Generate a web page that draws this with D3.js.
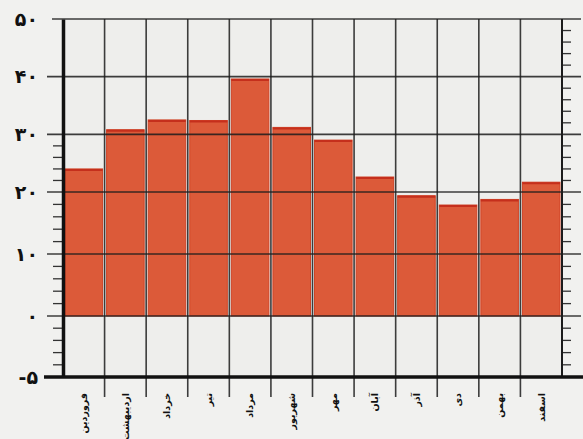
<!DOCTYPE html>
<html>
<head>
<meta charset="utf-8">
<script src="https://cdn.jsdelivr.net/npm/d3@7"></script>
<style>
  html, body { margin: 0; padding: 0; background: #f1f1ef; }
  svg { display: block; }
</style>
</head>
<body>
<div id="chart"></div>
<script>
'use strict';

// months of the Persian calendar
const months = ["فروردین", "اردیبهشت", "خرداد", "تیر", "مرداد", "شهریور",
                "مهر", "آبان", "آذر", "دی", "بهمن", "اسفند"];
// bar values
const values = [24, 30.8, 32.5, 32.4, 39.6, 31.2, 29, 22.6, 19.4, 17.9, 18.8, 21.7];
// labelled gridlines
const yMajor = [-5, 0, 10, 20, 30, 40, 50];

const W = 583, H = 439;

function faDigits(n) {
  return String(n).replace(/\d/g, d => "۰۱۲۳۴۵۶۷۸۹"[+d]);
}

let svg = d3.select("#chart").append("svg")
  .attr("width", W)
  .attr("height", H);

// x: one band per month
let x = d3.scaleBand()
  .domain(months)
  .range([63, 562])
  .paddingInner(0)
  .paddingOuter(0);

// y: the printed scale is not linear (below 0 is stretched), so piecewise
let y = d3.scaleLinear()
  .domain([-5, 0, 20, 50])
  .range([377, 316, 192, 19]);

// plot background
svg.append("rect")
  .attr("x", x.range()[0])
  .attr("y", y(50))
  .attr("width", x.range()[1] - x.range()[0])
  .attr("height", y(-5) - y(50))
  .attr("fill", "#eeeeec");

// bars
let bars = svg.append("g");
bars.selectAll("rect")
  .data(values)
  .enter()
  .append("rect")
  .attr("x", (d, i) => x(months[i]) + 2)
  .attr("y", d => y(d))
  .attr("width", x.bandwidth() - 4)
  .attr("height", d => y(0) - y(d))
  .attr("fill", "#dc5a39")
  .attr("stroke", "#d04326")
  .attr("stroke-width", 1);

// darker top edge of each bar
bars.selectAll("line")
  .data(values)
  .enter()
  .append("line")
  .attr("x1", (d, i) => x(months[i]) + 2)
  .attr("x2", (d, i) => x(months[i]) + x.bandwidth() - 2)
  .attr("y1", d => y(d) + 1)
  .attr("y2", d => y(d) + 1)
  .attr("stroke", "#c52f1c")
  .attr("stroke-width", 2);

// horizontal gridlines at major values
let grid = svg.append("g")
  .attr("stroke", "#1c1c1c")
  .attr("stroke-opacity", 0.85);

grid.selectAll("line.h")
  .data(yMajor.filter(v => v > -5))
  .enter()
  .append("line")
  .attr("class", "h")
  .attr("x1", d => d == 50 ? 52 : 47)
  .attr("x2", 581)
  .attr("y1", d => y(d))
  .attr("y2", d => y(d))
  .attr("stroke-width", 1.6);

// vertical boundaries between months, running below the axis as ticks
let bounds = months.slice(1).map(m => x(m));
grid.selectAll("line.v")
  .data(bounds)
  .enter()
  .append("line")
  .attr("class", "v")
  .attr("x1", d => d)
  .attr("x2", d => d)
  .attr("y1", y(50))
  .attr("y2", y(-5) + 20)
  .attr("stroke-width", 1.6);

// minor ticks: every 2 above zero, every 1 below
let minor = d3.range(0, 50, 2).concat(d3.range(-5, 0, 1)).filter(v => v % 10 != 0 && v != -5);

// left minor ticks only appear below 30 on the print
svg.append("g")
  .selectAll("line")
  .data(minor.filter(v => v < 30))
  .enter()
  .append("line")
  .attr("x1", 53)
  .attr("x2", 63)
  .attr("y1", d => y(d))
  .attr("y2", d => y(d))
  .attr("stroke", "#333")
  .attr("stroke-width", 1.3);

// right minor ticks
svg.append("g")
  .selectAll("line")
  .data(minor)
  .enter()
  .append("line")
  .attr("x1", 562)
  .attr("x2", 571)
  .attr("y1", d => y(d))
  .attr("y2", d => y(d))
  .attr("stroke", "#333")
  .attr("stroke-width", 1.3);

// right axis line
svg.append("line")
  .attr("x1", 562).attr("x2", 562)
  .attr("y1", y(50)).attr("y2", y(-5))
  .attr("stroke", "#1c1c1c")
  .attr("stroke-width", 2);

// left axis (thick) with Persian labels
let yAxis = d3.axisLeft(y)
  .tickValues(yMajor)
  .tickSize(0)
  .tickPadding(25)
  .tickFormat(d => d < 0 ? "-" + faDigits(-d) : faDigits(d));

let yAxisG = svg.append("g")
  .attr("transform", "translate(63,0)")
  .call(yAxis);

yAxisG.select(".domain")
  .attr("stroke", "#111")
  .attr("stroke-width", 3.5);

yAxisG.selectAll(".tick text")
  .attr("fill", "#111")
  .style("font-family", "'DejaVu Sans', sans-serif")
  .style("font-weight", "bold")
  .style("font-size", "19px");

// bottom axis line at -5
svg.append("line")
  .attr("x1", 44).attr("x2", 583)
  .attr("y1", y(-5)).attr("y2", y(-5))
  .attr("stroke", "#111")
  .attr("stroke-width", 3.5);

// month labels, rotated and hanging below the axis
svg.append("g")
  .selectAll("text")
  .data(months)
  .enter()
  .append("text")
  .attr("transform", d => "translate(" + (x(d) + x.bandwidth() / 2) + "," + (y(-5) + 16) + ") rotate(-90)")
  .attr("text-anchor", "end")
  .attr("dy", "0.35em")
  .style("font-family", "'DejaVu Sans', sans-serif")
  .style("font-weight", "bold")
  .style("font-size", "9.5px")
  .attr("fill", "#111")
  .text(d => d);
</script>
</body>
</html>
